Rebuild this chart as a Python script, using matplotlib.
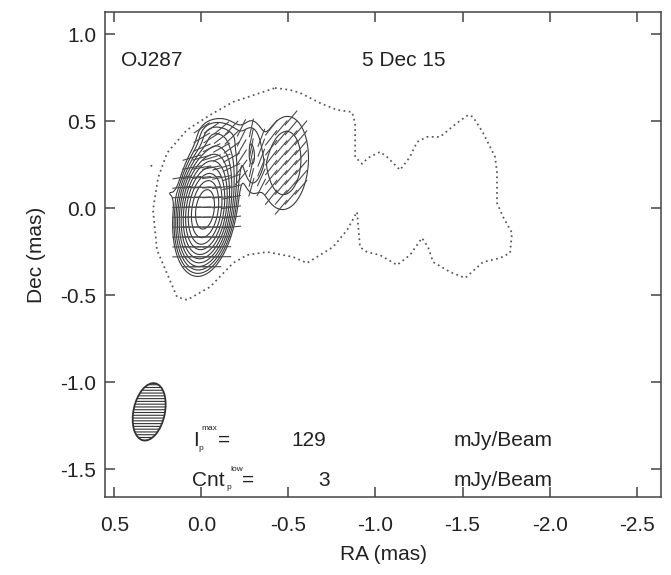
import numpy as np
import matplotlib
matplotlib.use("Agg")
import matplotlib.pyplot as plt
from matplotlib.patches import Ellipse
from matplotlib.collections import LineCollection

plt.rcParams['font.family'] = ['Liberation Sans', 'DejaVu Sans']
plt.rcParams['hatch.linewidth'] = 0.8
plt.rcParams['hatch.color'] = '#444444'

source = "OJ287"
epoch = "5 Dec 15"
peak_ip = 129      # mJy/Beam
lowest_cnt = 3     # mJy/Beam

# polarized components (RA, Dec in mas, flux in mJy/beam,
# EVPA in deg N through E)
comp_ra   = [-0.02, -0.08, -0.05, 0.19, -0.285, -0.48, -0.16]
comp_dec  = [-0.01, 0.20, 0.43, 0.09, 0.30, 0.26, 0.42]
comp_flux = [130.0, 15.0, 2.5, 2.5, 5.8, 5.6, 2.5]
comp_smaj = [0.14, 0.17, 0.05, 0.045, 0.16, 0.24, 0.08]
comp_smin = [0.065, 0.085, 0.05, 0.03, 0.05, 0.12, 0.05]
comp_pa   = [-8, -10, 0, 0, 0, -4, 90]
comp_evpa = [90, 125, 120, 90, 0, 140, 160]

# contours: lowest level times steps of sqrt(2)
levels = [3, 4.2, 6, 8.5, 12, 17, 24, 34, 48, 68, 96]

# lowest total intensity contour (dotted)
outer_ra = [-0.423, -0.509, -0.567, -0.681, -0.779, -0.865, -0.883, -0.883,
            -0.923, -0.957, -1.026, -1.066, -1.141, -1.198, -1.239, -1.296,
            -1.371, -1.468, -1.532, -1.560, -1.618, -1.687, -1.698, -1.698,
            -1.733, -1.784, -1.773, -1.716, -1.618, -1.515, -1.428, -1.331,
            -1.302, -1.267, -1.198, -1.124, -1.026, -0.951, -0.911, -0.894,
            -0.837, -0.756, -0.681, -0.607, -0.527, -0.377, -0.262, -0.182,
            -0.050, 0.082, 0.140, 0.255, 0.278, 0.249, 0.197, 0.083,
            -0.050, -0.182, -0.423]
outer_dec = [0.691, 0.680, 0.663, 0.605, 0.565, 0.553, 0.490, 0.295,
             0.255, 0.289, 0.324, 0.295, 0.220, 0.295, 0.381, 0.410,
             0.410, 0.490, 0.536, 0.525, 0.433, 0.295, 0.203, 0.030,
             -0.050, -0.142, -0.257, -0.286, -0.309, -0.401, -0.366, -0.309,
             -0.223, -0.171, -0.269, -0.326, -0.269, -0.251, -0.223, -0.021,
             -0.125, -0.223, -0.269, -0.315, -0.280, -0.251, -0.269, -0.315,
             -0.452, -0.527, -0.510, -0.240, -0.010, 0.174, 0.318, 0.450,
             0.536, 0.611, 0.691]
islet_ra = [0.29, 0.275]
islet_dec = [0.24, 0.262]

beam_ra, beam_dec = 0.30, -1.17
beam_maj, beam_min, beam_pa = 0.335, 0.18, -12

xticks = [0.5, 0.0, -0.5, -1.0, -1.5, -2.0, -2.5]
yticks = [1.0, 0.5, 0.0, -0.5, -1.0, -1.5]


def stokes_qu(x, y):
    q = 0.0
    u = 0.0
    for k in range(len(comp_ra)):
        p = np.radians(comp_pa[k])
        dx = x - comp_ra[k]
        dy = y - comp_dec[k]
        a = dx * np.sin(p) + dy * np.cos(p)
        b = dx * np.cos(p) - dy * np.sin(p)
        amp = comp_flux[k] * np.exp(-0.5 * (a**2 / comp_smaj[k]**2 + b**2 / comp_smin[k]**2))
        chi = np.radians(comp_evpa[k])
        q = q + amp * np.cos(2 * chi)
        u = u + amp * np.sin(2 * chi)
    return q, u


ra = np.linspace(0.55, -2.64, 600)
dec = np.linspace(-1.66, 1.13, 520)
RA, DEC = np.meshgrid(ra, dec)
Q, U = stokes_qu(RA, DEC)
pmap = np.hypot(Q, U)

fig = plt.figure(figsize=(6.71, 5.75), dpi=100)
ax = fig.add_axes([105.3 / 671, 1 - 497.3 / 575, (661 - 105.3) / 671, (497.3 - 12.3) / 575])

ax.plot(outer_ra, outer_dec, color='#555555', lw=1.25, ls=(0, (1, 2)))
ax.plot(islet_ra, islet_dec, color='#555555', lw=1.25, ls=(0, (1, 2)))

ax.contour(RA, DEC, pmap, levels=levels, colors='#3a3a3a', linewidths=0.8)

# EVPA ticks on a coarse grid
step = 0.057
half = 0.055
gx, gy = np.meshgrid(np.arange(-0.8, 0.35, step), np.arange(-0.45, 0.6, step))
gq, gu = stokes_qu(gx, gy)
keep = np.hypot(gq, gu) >= 3.0
chi = 0.5 * np.arctan2(gu[keep], gq[keep])
x0, y0 = gx[keep], gy[keep]
segs = [[(x - half * np.sin(c), y - half * np.cos(c)),
         (x + half * np.sin(c), y + half * np.cos(c))] for x, y, c in zip(x0, y0, chi)]
ax.add_collection(LineCollection(segs, colors='#4a4a4a', linewidths=0.8))

beam = Ellipse((beam_ra, beam_dec), beam_min, beam_maj, angle=-beam_pa,
               facecolor='white', edgecolor='#333333', lw=1.3, hatch='------')
ax.add_patch(beam)

tc = '#222222'
fs = 15
ax.text(0.46, 0.85, source, fontsize=fs, color=tc, va='center')
ax.text(-0.92, 0.85, epoch, fontsize=fs, color=tc, va='center')

ax.text(0.048, -1.332, 'I', fontsize=fs, color=tc, va='center')
ax.text(0.019, -1.383, 'p', fontsize=6, color=tc, va='center')
ax.text(0.0, -1.263, 'max', fontsize=6, color=tc, va='center')
ax.text(-0.096, -1.332, '=', fontsize=fs, color=tc, va='center')
ax.text(-0.519, -1.332, str(peak_ip), fontsize=fs, color=tc, va='center')
ax.text(-1.451, -1.332, 'mJy/Beam', fontsize=fs, color=tc, va='center')

ax.text(0.055, -1.562, 'Cnt', fontsize=fs, color=tc, va='center')
ax.text(-0.146, -1.607, 'p', fontsize=6, color=tc, va='center')
ax.text(-0.168, -1.504, 'low', fontsize=6, color=tc, va='center')
ax.text(-0.232, -1.562, '=', fontsize=fs, color=tc, va='center')
ax.text(-0.67, -1.562, str(lowest_cnt), fontsize=fs, color=tc, va='center')
ax.text(-1.451, -1.562, 'mJy/Beam', fontsize=fs, color=tc, va='center')

ax.set_xlim(0.552, -2.64)
ax.set_ylim(-1.661, 1.126)
ax.set_xticks(xticks, labels=[f'{t:.1f}' for t in xticks])
ax.set_yticks(yticks, labels=[f'{t:.1f}' for t in yticks])
ax.tick_params(direction='in', length=7, width=1.1, top=True, right=True,
               labelsize=fs, colors='#444444', labelcolor=tc)
ax.tick_params(axis='x', pad=13.5)
ax.tick_params(axis='y', pad=6.5)
for s in ax.spines.values():
    s.set_linewidth(1.1)
    s.set_color('#444444')

ax.set_xlabel('RA (mas)', fontsize=fs, color=tc, labelpad=7.5)
ax.set_ylabel('Dec (mas)', fontsize=fs, color=tc, labelpad=10)

fig.savefig('out.png', dpi=100)
